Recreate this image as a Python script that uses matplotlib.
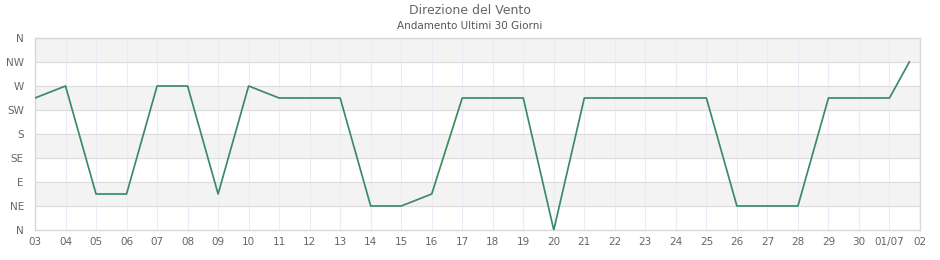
import numpy as np
import matplotlib
matplotlib.use("Agg")
import matplotlib.pyplot as plt

# giorni (indice dal 03/06) e direzione in gradi
giorni = [0, 1, 2, 3, 4, 5, 6, 7, 8, 9, 10, 11, 12, 13, 14, 15, 16, 17, 18,
          19, 20, 21, 22, 23, 24, 25, 26, 27, 28, 28.65]
direzione = [247.5, 270, 67.5, 67.5, 270, 270, 67.5, 270, 247.5, 247.5, 247.5,
             45, 45, 67.5, 247.5, 247.5, 247.5, 0, 247.5, 247.5, 247.5, 247.5,
             247.5, 45, 45, 45, 247.5, 247.5, 247.5, 315]

etichette_x = ["03", "04", "05", "06", "07", "08", "09", "10", "11", "12", "13",
               "14", "15", "16", "17", "18", "19", "20", "21", "22", "23", "24",
               "25", "26", "27", "28", "29", "30", "01/07", "02"]
etichette_y = ["N", "NE", "E", "SE", "S", "SW", "W", "NW", "N"]

fig = plt.figure(figsize=(9.4, 2.6), dpi=100)
ax = fig.add_axes([35/940, 1 - 230/260, (920 - 35)/940, (230 - 38)/260])

# bande alternate
for k in range(8):
    if k % 2 == 1:
        ax.axhspan(k*45, (k+1)*45, color="#f3f3f3", zorder=0, lw=0)

for i in range(len(etichette_x)):
    ax.axvline(i, color="#ebebf7", lw=0.8, zorder=1)
for k in range(1, 8):
    ax.axhline(k*45, color="#dedede", lw=0.9, zorder=1)

ax.plot(giorni, direzione, color="#3b8a6c", lw=1.25, zorder=3)

ax.set_xlim(0, len(etichette_x) - 1)
ax.set_ylim(0, 360)
ax.set_xticks(range(len(etichette_x)))
ax.set_xticklabels(etichette_x)
ax.set_yticks(np.arange(0, 361, 45))
ax.set_yticklabels(etichette_y)
ax.tick_params(length=0, labelsize=7.5, labelcolor="#666666", pad=5)
ax.tick_params(axis="y", pad=8)
for s in ax.spines.values():
    s.set_color("#d8d8d8")
    s.set_linewidth(1)

fig.text(0.5, 1 - 11/260, "Direzione del Vento", ha="center", va="center",
         fontsize=9, color="#666666")
fig.text(0.5, 1 - 26/260, "Andamento Ultimi 30 Giorni", ha="center", va="center",
         fontsize=7.5, color="#555555")

fig.savefig("out.png", dpi=100)
